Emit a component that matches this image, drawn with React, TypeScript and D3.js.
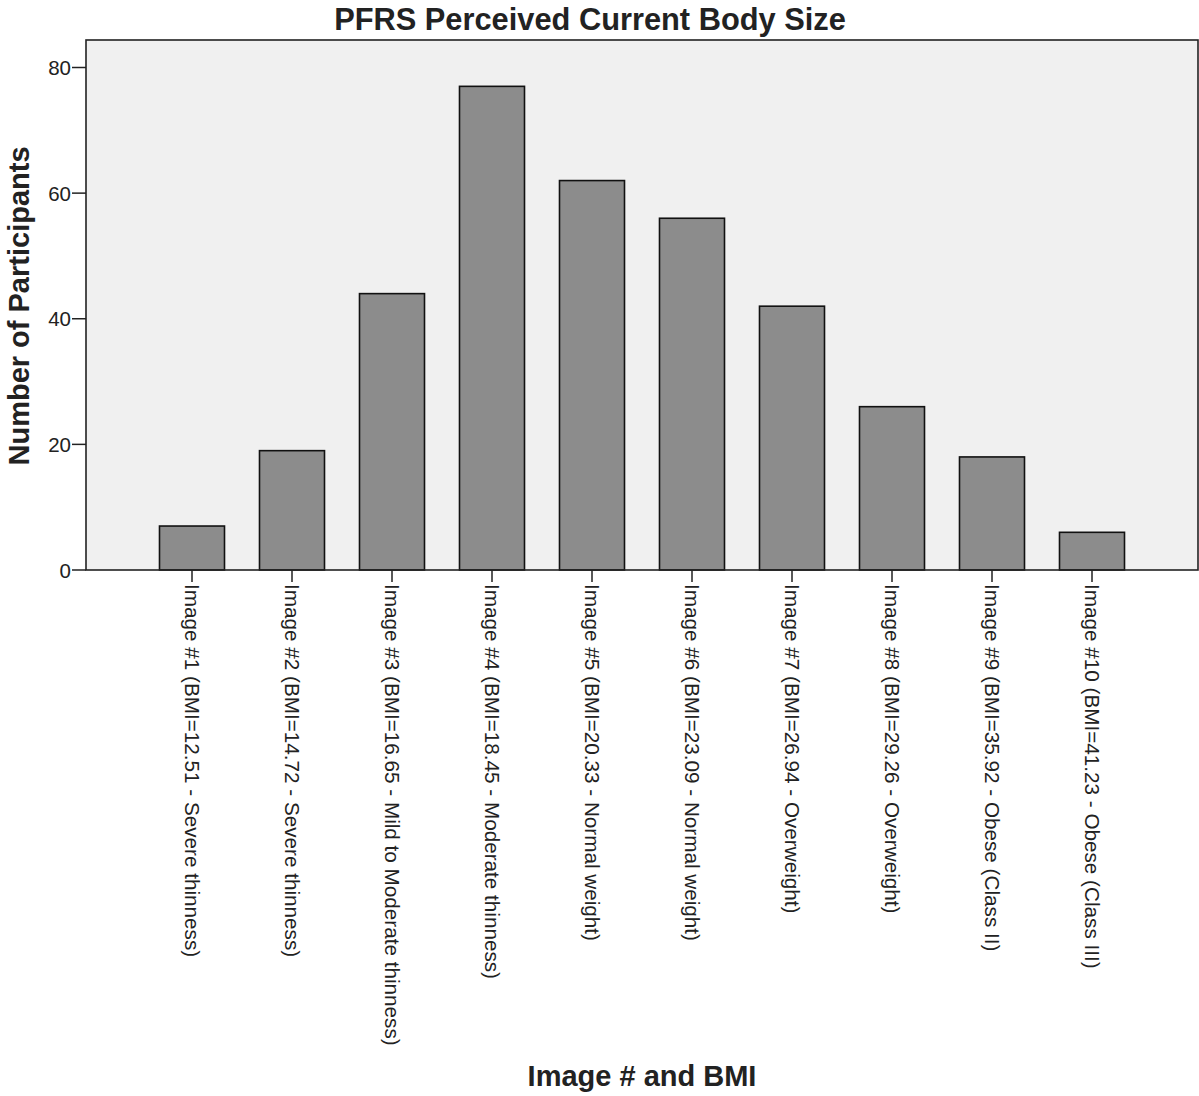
import React from "react";
import * as d3 from "d3";

const categories = [
  "Image #1 (BMI=12.51 - Severe thinness)",
  "Image #2 (BMI=14.72 - Severe thinness)",
  "Image #3 (BMI=16.65 - Mild to Moderate thinness)",
  "Image #4 (BMI=18.45 - Moderate thinness)",
  "Image #5 (BMI=20.33 - Normal weight)",
  "Image #6 (BMI=23.09 - Normal weight)",
  "Image #7 (BMI=26.94 - Overweight)",
  "Image #8 (BMI=29.26 - Overweight)",
  "Image #9 (BMI=35.92 - Obese (Class II)",
  "Image #10 (BMI=41.23 - Obese (Class III)",
];
const counts = [7, 19, 44, 77, 62, 56, 42, 26, 18, 6];
const yTicks = [0, 20, 40, 60, 80];

const W = 1199;
const H = 1096;
const plotLeft = 86;
const plotRight = 1198;
const plotTop = 40;
const plotBottom = 570;

export default function App() {
  const x = d3
    .scaleBand<string>()
    .domain(categories)
    .range([142, 1142])
    .paddingInner(0.35)
    .paddingOuter(0.175);
  const y = d3.scaleLinear().domain([0, 80]).range([plotBottom, 67.5]);
  const font = "'Liberation Sans', Arial, sans-serif";

  return (
    <svg
      width={W}
      height={H}
      style={{ position: "absolute", left: 0, top: 0, background: "#fff" }}
      fontFamily={font}
    >
      <rect
        x={plotLeft}
        y={plotTop}
        width={plotRight - plotLeft}
        height={plotBottom - plotTop}
        fill="#f0f0f0"
        stroke="none"
      />
      {categories.map((c, i) => (
        <rect
          key={c}
          x={x(c)}
          y={y(counts[i])}
          width={x.bandwidth()}
          height={plotBottom - y(counts[i])}
          fill="#8c8c8c"
          stroke="#111"
          strokeWidth={1.6}
        />
      ))}
      <rect
        x={plotLeft}
        y={plotTop}
        width={plotRight - plotLeft}
        height={plotBottom - plotTop}
        fill="none"
        stroke="#222"
        strokeWidth={1.6}
      />
      {yTicks.map((t) => (
        <g key={t}>
          <line x1={72} x2={plotLeft} y1={y(t)} y2={y(t)} stroke="#222" strokeWidth={1.5} />
          <text
            x={71}
            y={y(t)}
            textAnchor="end"
            dominantBaseline="central"
            fontSize={20.5}
            fill="#222"
          >
            {t}
          </text>
        </g>
      ))}
      {categories.map((c) => {
        const cx = (x(c) as number) + x.bandwidth() / 2;
        return (
          <g key={"t" + c}>
            <line x1={cx} x2={cx} y1={plotBottom} y2={582} stroke="#222" strokeWidth={1.5} />
            <text
              transform={`translate(${cx},584) rotate(90)`}
              dominantBaseline="central"
              fontSize={20.7}
              fill="#222"
            >
              {c}
            </text>
          </g>
        );
      })}
      <text
        x={590}
        y={30}
        textAnchor="middle"
        fontSize={30.8}
        fontWeight="bold"
        fill="#222"
      >
        PFRS Perceived Current Body Size
      </text>
      <text
        transform={`translate(29,306) rotate(-90)`}
        textAnchor="middle"
        fontSize={29}
        fontWeight="bold"
        fill="#222"
      >
        Number of Participants
      </text>
      <text
        x={642}
        y={1086}
        textAnchor="middle"
        fontSize={29}
        fontWeight="bold"
        fill="#222"
      >
        Image # and BMI
      </text>
    </svg>
  );
}
